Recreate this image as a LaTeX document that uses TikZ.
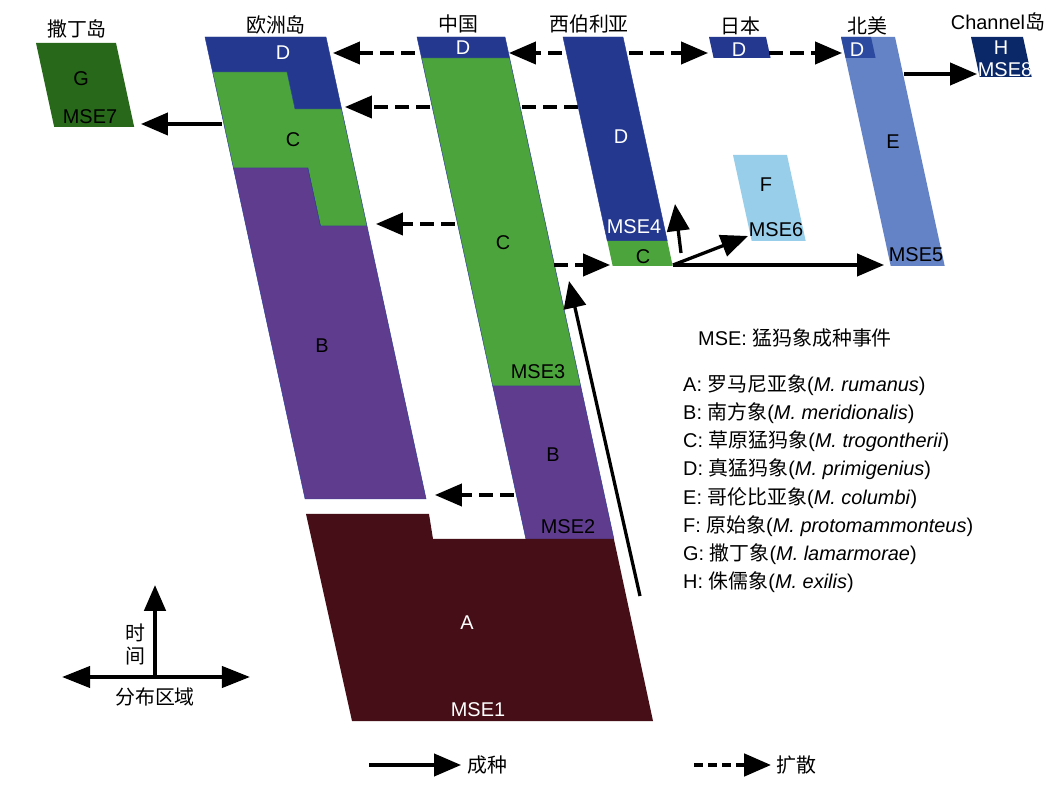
\documentclass[tikz,border=0pt]{standalone}
\usepackage{fontspec}
\setmainfont{Liberation Sans}
\newfontfamily\cjk{Noto Sans CJK SC}
\usetikzlibrary{arrows.meta}

\definecolor{mA}{RGB}{70,14,22}
\definecolor{mB}{RGB}{96,60,143}
\definecolor{mC}{RGB}{76,164,60}
\definecolor{mD}{RGB}{35,56,142}
\definecolor{mDna}{RGB}{44,74,160}
\definecolor{mE}{RGB}{100,130,198}
\definecolor{mF}{RGB}{152,206,234}
\definecolor{mG}{RGB}{40,104,26}
\definecolor{mH}{RGB}{10,40,104}
\definecolor{mline}{RGB}{40,60,150}

\tikzset{
  chengzhong/.style={-{Triangle[length=23pt,width=19pt]}, line width=2.8pt},
  kuosan/.style={chengzhong, dash pattern=on 12pt off 6pt},
  region/.style={draw=mline, line width=0.4pt},
  lbl/.style={inner sep=0pt, font=\fontsize{17}{20}\selectfont},
  area/.style={inner sep=0pt, font=\cjk\fontsize{17}{20}\selectfont},
}

\begin{document}
\begin{tikzpicture}[x=0.03cm, y=-0.03cm]
    \fill[white] (0,0) rectangle (1055,797);
    \useasboundingbox (0,0) rectangle (1055,797);

    % 西伯利亚到欧洲岛的扩散, 从中国一栏后面穿过
    \coordinate (sbDw) at (578,107);
    \coordinate (euDe) at (345,107);
    \draw[kuosan] (sbDw) -- (euDe);

    % 欧洲岛
    \filldraw[region, fill=mD] (205,37) -- (326,37) -- (341.6,109) -- (295,109) -- (287,72) -- (212.6,72) -- cycle;
    \filldraw[region, fill=mC] (212.6,72) -- (287,72) -- (295,109) -- (341.6,109) -- (367,226) -- (320.4,226) -- (307.8,168) -- (233.4,168) -- cycle;
    \filldraw[region, fill=mB] (233.4,168) -- (307.8,168) -- (320.4,226) -- (367,226) -- (426.1,499) -- (305.1,499) -- cycle;

    % 中国
    \filldraw[region, fill=mD] (417,37) -- (505,37) -- (509.6,58) -- (421.6,58) -- cycle;
    \filldraw[region, fill=mC] (421.6,58) -- (509.6,58) -- (580.7,386) -- (492.7,386) -- cycle;
    \filldraw[region, fill=mB] (492.7,386) -- (580.7,386) -- (613.9,539) -- (525.9,539) -- cycle;
    \fill[mA] (306,514) -- (429,514) -- (433,539) -- (613.9,539) -- (653,721) -- (352,721) -- cycle;

    % 西伯利亚, 日本, 北美, 其他岛屿
    \filldraw[region, fill=mD] (563,37) -- (623,37) -- (667.3,241) -- (607.3,241) -- cycle;
    \fill[mC] (607.3,241) -- (667.3,241) -- (672.7,266) -- (612.7,266) -- cycle;
    \fill[mD] (709,37) -- (766,37) -- (770.6,58) -- (713.6,58) -- cycle;
    \fill[mE] (841,37) -- (895,37) -- (944.7,266) -- (890.7,266) -- cycle;
    \fill[mDna] (841,37) -- (871,37) -- (875.6,58) -- (845.6,58) -- cycle;
    \fill[mF] (733,155) -- (787,155) -- (805.7,241) -- (751.7,241) -- cycle;
    \fill[mH] (971,37) -- (1023,37) -- (1031.7,77) -- (979.7,77) -- cycle;
    \fill[mG] (36,43) -- (116,43) -- (134.2,127) -- (54.2,127) -- cycle;

    % 地区名称
    \node[area] (sardinia) at (77,29) {撒丁岛};
    \node[area] (europe) at (276,25) {欧洲岛};
    \node[area] (china) at (458,24) {中国};
    \node[area] (siberia) at (589,24) {西伯利亚};
    \node[area] (japan) at (740,26) {日本};
    \node[area] (namerica) at (867,26) {北美};
    \node[lbl] (channel) at (998,22) {Channel{\cjk 岛}};

    % 各块的字母与MSE
    \node[lbl, white] (euD) at (283,53) {D};
    \node[lbl] (euC) at (293,140) {C};
    \node[lbl] (euB) at (322,346) {B};
    \node[lbl, white] (cnD) at (463,48) {D};
    \node[lbl] (cnC) at (503,243) {C};
    \node[lbl] (mse3) at (538,372) {MSE3};
    \node[lbl] (cnB) at (553,455) {B};
    \node[lbl] (mse2) at (568,527) {MSE2};
    \node[lbl, white] (regA) at (467,623) {A};
    \node[lbl, white] (mse1) at (478,710) {MSE1};
    \node[lbl, white] (sbD) at (621,137) {D};
    \node[lbl, white] (mse4) at (634,227) {MSE4};
    \node[lbl] (sbC) at (643,257) {C};
    \node[lbl, white] (jpD) at (739,50) {D};
    \node[lbl, white] (naD) at (857,50) {D};
    \node[lbl] (naE) at (893,142) {E};
    \node[lbl] (mse5) at (916,255) {MSE5};
    \node[lbl] (regF) at (766,185) {F};
    \node[lbl] (mse6) at (776,230) {MSE6};
    \node[lbl, white] (regH) at (1001,48) {H};
    \node[lbl, white] (mse8) at (1005,70) {MSE8};
    \node[lbl] (regG) at (81,79) {G};
    \node[lbl] (mse7) at (90,117) {MSE7};

    % 成种
    \coordinate (euW) at (222,124);
    \coordinate (sdE) at (141,124);
    \draw[chengzhong] (euW) -- (sdE);
    \coordinate (sbCn) at (681,253);
    \coordinate (sbDs) at (675,204);
    \draw[chengzhong] (sbCn) -- (sbDs);
    \coordinate (sbCe) at (673,265);
    \coordinate (fSW) at (748,236);
    \coordinate (eSW) at (884,265);
    \draw[chengzhong] (sbCe) -- (fSW);
    \draw[chengzhong] (sbCe) -- (eSW);
    \coordinate (naE1) at (904,74);
    \coordinate (hW) at (977,74);
    \draw[chengzhong] (naE1) -- (hW);
    \coordinate (aNE) at (640,596);
    \coordinate (cnCe) at (569,281);
    \draw[chengzhong] (aNE) -- (cnCe);

    % 扩散
    \coordinate (cnDw) at (415,53);
    \coordinate (euDn) at (333,53);
    \draw[kuosan] (cnDw) -- (euDn);
    \coordinate (sbDn) at (562,53);
    \coordinate (cnDe) at (509,53);
    \draw[kuosan] (sbDn) -- (cnDe);
    \coordinate (sbDe) at (629,53);
    \coordinate (jpDw) at (708,53);
    \draw[kuosan] (sbDe) -- (jpDw);
    \coordinate (jpDe) at (769,53);
    \coordinate (naDw) at (842,53);
    \draw[kuosan] (jpDe) -- (naDw);
    \coordinate (cnCw) at (455,224);
    \coordinate (euCe) at (376,224);
    \draw[kuosan] (cnCw) -- (euCe);
    \coordinate (cnCr) at (554,265);
    \coordinate (sbCw) at (610,265);
    \draw[kuosan] (cnCr) -- (sbCw);
    \coordinate (cnBw) at (514,495);
    \coordinate (euBe) at (435,495);
    \draw[kuosan] (cnBw) -- (euBe);

    % 坐标轴
    \coordinate (ax0) at (155,677);
    \coordinate (axT) at (155,585);
    \coordinate (axL) at (62,677);
    \coordinate (axR) at (250,677);
    \draw[line width=3.4pt, {Triangle[length=24pt,width=18pt]}-{Triangle[length=24pt,width=18pt]}] (axL) -- (axR);
    \draw[line width=3.4pt, -{Triangle[length=22pt,width=18pt]}] (ax0) -- (axT);
    \node[area] (shi) at (135,633) {时};
    \node[area] (jian) at (135,656) {间};
    \node[area] (fenbu) at (155,697) {分布区域};

    % 图例
    \node[lbl, anchor=west] (mse) at (698,338) {MSE: {\cjk 猛犸象成种事件}};
    \foreach \k/\zh/\la [count=\i] in {A/罗马尼亚象/rumanus, B/南方象/meridionalis,
        C/草原猛犸象/trogontherii, D/真猛犸象/primigenius, E/哥伦比亚象/columbi,
        F/原始象/protomammonteus, G/撒丁象/lamarmorae, H/侏儒象/exilis}
        \node[lbl, anchor=west] (leg\k) at (683,{385+28.2*(\i-1)}) {\k: {\cjk \zh}(\textit{M. \la})};

    \coordinate (czA) at (369,765);
    \coordinate (czB) at (461,765);
    \draw[chengzhong] (czA) -- (czB);
    \node[area, anchor=west] (cz) at (467,765) {成种};
    \coordinate (ksA) at (694,765);
    \coordinate (ksB) at (771,765);
    \draw[kuosan, line width=3.4pt, dash pattern=on 8pt off 4pt] (ksA) -- (ksB);
    \node[area, anchor=west] (ks) at (776,765) {扩散};
\end{tikzpicture}
\end{document}
